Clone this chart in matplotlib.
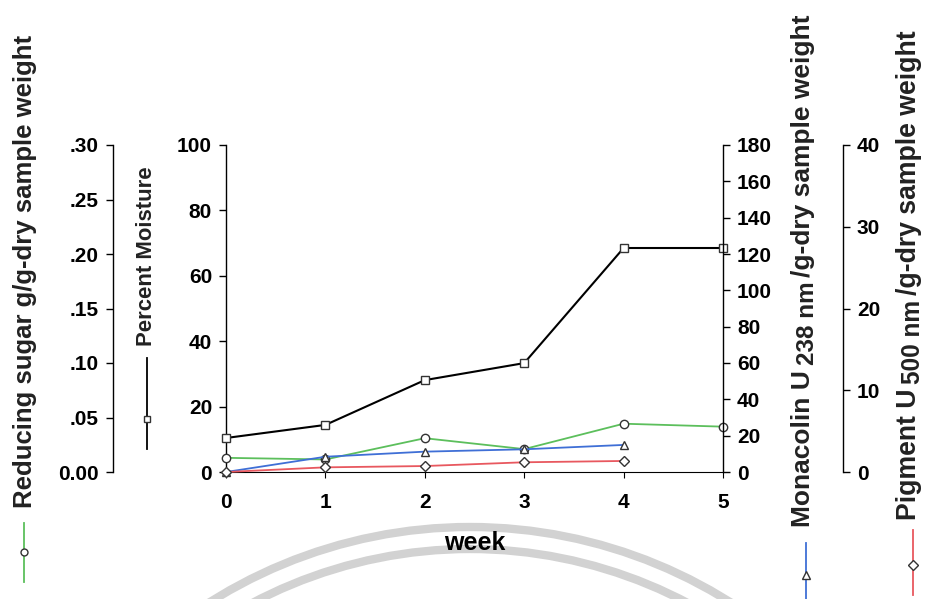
import numpy as np
import matplotlib.pyplot as plt
from matplotlib.lines import Line2D
from matplotlib.patches import Arc

plt.rcParams['font.family'] = ['Liberation Sans', 'DejaVu Sans']
plt.rcParams['font.weight'] = 'bold'

# data
week = [0, 1, 2, 3, 4, 5]
moisture = [10.4, 14.4, 28.1, 33.3, 68.5, 68.5]
sugar = [0.013, 0.0115, 0.031, 0.021, 0.0443, 0.0416]
week_m = [0, 1, 2, 3, 4]
monacolin = [0.0, 8.4, 11.2, 12.5, 14.9]
pigment = [0.0, 0.57, 0.73, 1.19, 1.35]

sugar_ticks = [0, 0.05, 0.10, 0.15, 0.20, 0.25, 0.30]
sugar_labels = ['0.00', '.05', '.10', '.15', '.20', '.25', '.30']

GREEN = '#5cbf5c'
BLUE = '#3f6fd6'
RED = '#e8585f'
TICK = 15

W, H = 926, 599
fig = plt.figure(figsize=(W / 100, H / 100), dpi=100)
renderer = fig.canvas.get_renderer()

# faint watermark arcs
bg = fig.add_axes([0, 0, 1, 1], zorder=-5)
bg.set_xlim(0, W)
bg.set_ylim(H, 0)
bg.axis('off')
for r in (488, 466):
    bg.add_patch(Arc((470, 1015), 2 * r, 2 * r, theta1=180, theta2=360,
                     color='#d2d2d2', lw=6))

x0, x1 = 226, 723
yb, yt = 472, 145
ax = fig.add_axes([x0 / W, 1 - yb / H, (x1 - x0) / W, (yb - yt) / H])
ax.patch.set_alpha(0)

def style(a, side):
    for s in a.spines.values():
        s.set_visible(False)
    a.spines[side].set_visible(True)
    a.spines[side].set_linewidth(1.0)
    a.tick_params(axis='y', which='both', direction='out', length=5,
                  labelsize=TICK, width=1.0, pad=5)
    a.yaxis.set_ticks_position(side)
    a.yaxis.set_label_position(side)

mk = dict(ms=6, mfc='white', mec='#333333', mew=1.0, clip_on=False)

# moisture (main axis)
style(ax, 'left')
ax.spines['bottom'].set_visible(True)
ax.plot(week, moisture, color='black', lw=1.5, marker='s', zorder=5, **mk)
ax.set_xlim(0, 5)
ax.set_ylim(0, 100)
ax.set_yticks([0, 20, 40, 60, 80, 100])
ax.set_xticks(week)
ax.tick_params(axis='x', direction='out', length=4, labelsize=TICK, pad=11)
ax.set_xlabel('week', fontsize=18, fontweight='bold', labelpad=14)

# reducing sugar (far left)
ax_s = ax.twinx()
style(ax_s, 'left')
ax_s.spines['left'].set_position(('axes', -(x0 - 113) / (x1 - x0)))
ax_s.plot(week, sugar, color=GREEN, lw=1.3, marker='o', **mk)
ax_s.set_ylim(0, 0.30)
ax_s.set_yticks(sugar_ticks)
ax_s.set_yticklabels(sugar_labels)

# monacolin (right)
ax_m = ax.twinx()
style(ax_m, 'right')
ax_m.plot(week_m, monacolin, color=BLUE, lw=1.3, marker='^', **mk)
ax_m.set_ylim(0, 180)
ax_m.set_yticks(np.arange(0, 181, 20))

# pigment (far right)
ax_p = ax.twinx()
style(ax_p, 'right')
ax_p.spines['right'].set_position(('axes', (843 - x0) / (x1 - x0)))
ax_p.plot(week_m, pigment, color=RED, lw=1.3, marker='D', ms=5.5,
          mfc='white', mec='#333333', mew=1.0, clip_on=False)
ax_p.set_ylim(0, 40)
ax_p.set_yticks([0, 10, 20, 30, 40])


def vtitle(x, y_bot, y_top, pieces):
    """Rotated title built from pieces (text, size factor, x shift px),
    stacked bottom to top and sized to span y_bot..y_top (pixels from top)."""
    def draw(size):
        arts, y = [], H - y_bot
        for text, f, dx in pieces:
            t = fig.text((x + dx) / W, y / H, text, rotation=90, ha='center',
                         va='bottom', fontsize=size * f, fontweight='bold',
                         color='#222222')
            y += t.get_window_extent(renderer).height + 0.25 * size
            arts.append(t)
        return arts, y - 0.25 * size - (H - y_bot)
    arts, length = draw(17)
    size = 17 * (y_bot - y_top) / length
    for a in arts:
        a.remove()
    draw(size)


def key(x, ya, yb_, ym, color, marker, ms):
    fig.add_artist(Line2D([x / W, x / W], [1 - ya / H, 1 - yb_ / H],
                          color=color, lw=1.3, transform=fig.transFigure))
    fig.add_artist(Line2D([x / W], [1 - ym / H], color=color, marker=marker,
                          ms=ms, mfc='white', mec='#333333', mew=1.0,
                          transform=fig.transFigure))

vtitle(25, 508, 33, [('Reducing sugar g/g-dry sample weight', 1, 0)])
key(24, 523, 582, 552, GREEN, 'o', 5)
vtitle(147, 346, 166, [('Percent Moisture', 1, 0)])
key(147, 358, 449, 419, 'black', 's', 5)
vtitle(803, 527, 13, [('Monacolin U', 1, 0), ('238 nm', 0.92, 4),
                      ('/g-dry sample weight', 1, 0)])
key(806, 543, 599, 575, BLUE, '^', 5.5)
vtitle(909, 520, 28, [('Pigment U', 1, 0), ('500 nm', 0.92, 4),
                      ('/g-dry sample weight', 1, 0)])
key(913, 530, 595, 565, RED, 'D', 5)

fig.savefig('out.png', dpi=100)
